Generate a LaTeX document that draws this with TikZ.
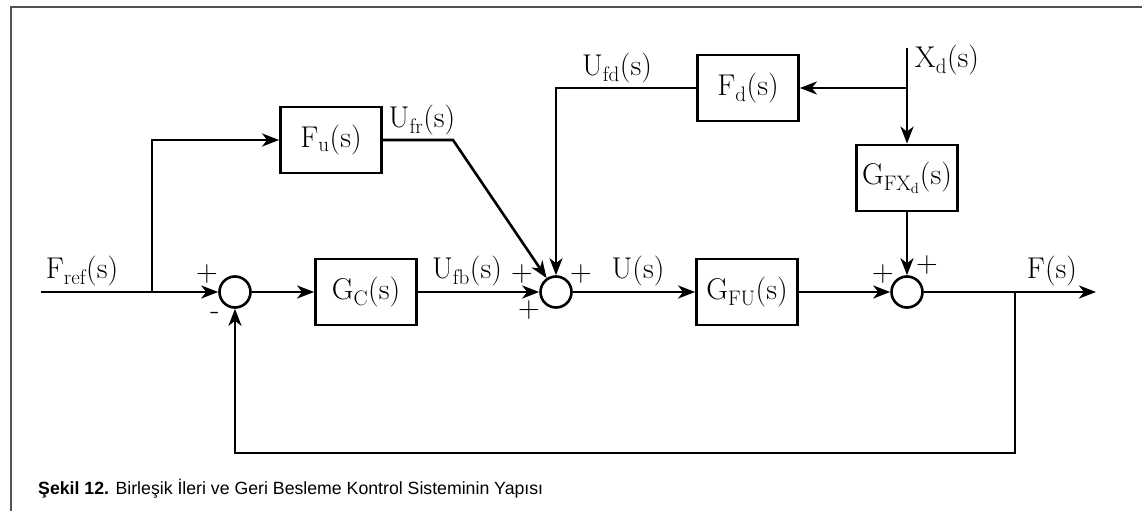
\documentclass[tikz,border=0pt]{standalone}
\usepackage{fontspec}
\setsansfont{Liberation Sans}
\usetikzlibrary{arrows.meta}
\newcommand{\lbl}{\fontsize{30}{34}\selectfont}
\begin{document}
\begin{tikzpicture}[x=1pt,y=-1pt,
  wire/.style={line width=2.6pt},
  arr/.style={wire,-{Stealth[length=17pt,width=13pt,inset=5pt]}},
  blk/.style={draw,line width=2.8pt,minimum width=101pt,minimum height=66pt,inner sep=0pt,font=\lbl},
  sumnode/.style={draw,circle,line width=2.6pt,minimum size=31pt,inner sep=0pt},
  lab/.style={font=\lbl,inner sep=0pt,anchor=base},
  sgn/.style={font=\lbl,inner sep=0pt}
]
\useasboundingbox (0,0) rectangle (1142,511);
% frame
\draw[line width=2pt,color=black!68] (10.5,511) -- (10.5,7.5) -- (1142,7.5);
% blocks
\node[blk] (fu) at (331,140) {F\textsubscript{u}(s)};
\node[blk] (gc) at (366,292) {G\textsubscript{C}(s)};
\node[blk] (fd) at (748,88) {F\textsubscript{d}(s)};
\node[blk] (gfx) at (907,178) {G\textsubscript{FX\textsubscript{d}}(s)};
\node[blk] (gfu) at (747,292) {G\textsubscript{FU}(s)};
% summing junctions
\node[sumnode] (s1) at (235,292) {};
\node[sumnode] (s2) at (556,292) {};
\node[sumnode] (s3) at (907,292) {};
% coordinates
\coordinate (in) at (41,292);
\coordinate (b1) at (152,292);
\coordinate (k1) at (453,140);
\coordinate (xd) at (907,48);
\coordinate (b2) at (907,88);
\coordinate (b3) at (1015,292);
\coordinate (out) at (1096,292);
\coordinate (c1) at (1015,453);
% connectors
\draw[arr] (in) -- (s1);
\draw[arr] (b1) |- (fu.west);
\draw[arr] (s1) -- (gc);
\draw[arr] (gc) -- (s2);
\draw[arr] (fu.east) -- (k1) -- (s2);
\draw[arr] (fd.west) -| (s2.north);
\draw[arr] (s2) -- (gfu);
\draw[arr] (xd) -- (gfx.north);
\draw[arr] (b2) -- (fd.east);
\draw[arr] (gfx.south) -- (s3.north);
\draw[arr] (gfu) -- (s3);
\draw[arr] (s3) -- (out);
\draw[arr] (b3) -- (c1) -| (s1.south);
% labels
\node[lab] (lfref) at (82,278) {F\textsubscript{ref}(s)};
\node[lab] (lufb) at (467,278) {U\textsubscript{fb}(s)};
\node[lab] (lu) at (638,278) {U(s)};
\node[lab] (lf) at (1052,278) {F(s)};
\node[lab] (lufr) at (422,127) {U\textsubscript{fr}(s)};
\node[lab] (lufd) at (617,75) {U\textsubscript{fd}(s)};
\node[lab] (lxd) at (947,67) {X\textsubscript{d}(s)};
% signs
\node[sgn] (p1) at (207,274) {+};
\node[sgn] (m1) at (215,316) {-};
\node[sgn] (p2) at (522,274) {+};
\node[sgn] (p3) at (529,310) {+};
\node[sgn] (p4) at (581,274) {+};
\node[sgn] (p5) at (883,274) {+};
\node[sgn] (p6) at (927,265) {+};
% caption
\node[anchor=base west,inner sep=0pt,font=\sffamily\fontsize{17.7}{20}\selectfont] (cap) at (38,494)
  {\textbf{Şekil 12.} Birleşik İleri ve Geri Besleme Kontrol Sisteminin Yapısı};
\end{tikzpicture}
\end{document}
